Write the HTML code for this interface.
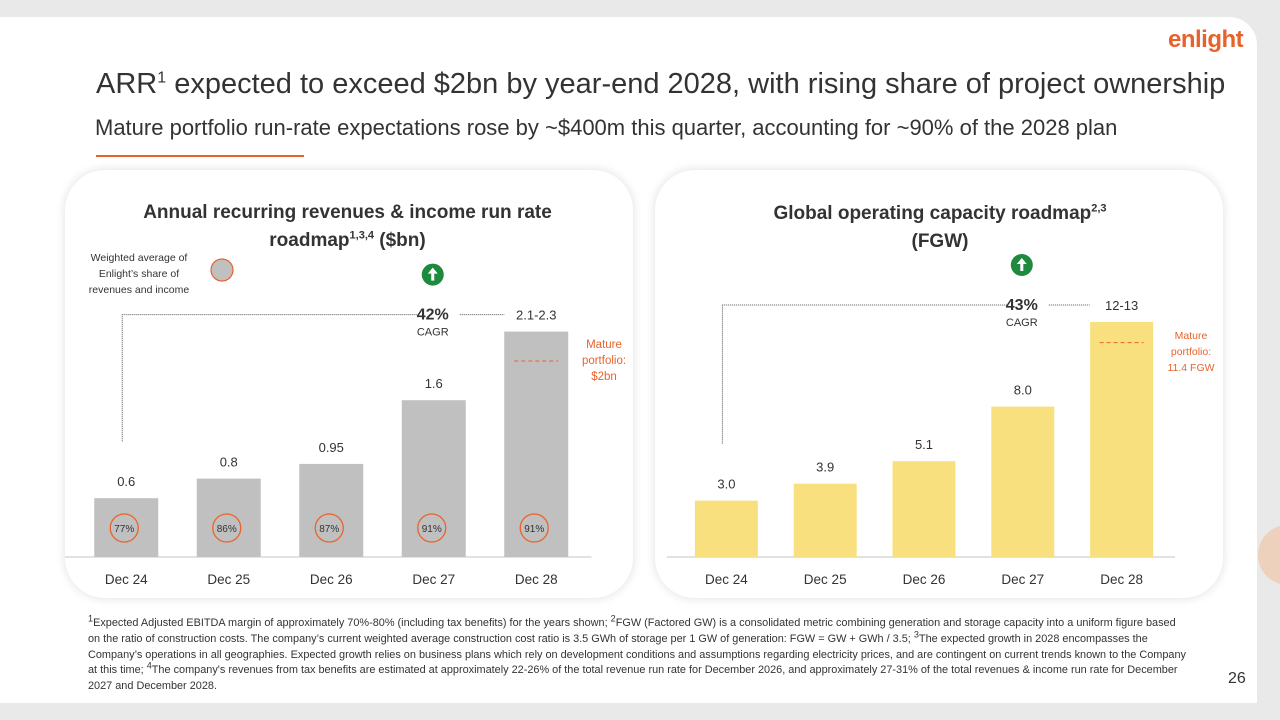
<!DOCTYPE html>
<html><head><meta charset="utf-8">
<style>
*{margin:0;padding:0;box-sizing:border-box}
body{width:1280px;height:720px;background:#e9e9e9;font-family:"Liberation Sans",sans-serif;position:relative;overflow:hidden}
sup{line-height:0;vertical-align:super}
.slide{position:absolute;left:0;top:17px;width:1257px;height:686px;background:#fff;border-top-right-radius:28px}
.abs{position:absolute}
.card{position:absolute;top:170px;width:568px;height:428px;background:#fff;border-radius:40px;box-shadow:0 0 10px rgba(0,0,0,0.13)}
.ctitle{position:absolute;font-weight:bold;font-size:19px;color:#333;text-align:center;line-height:28px}
.fn{position:absolute;left:88px;top:616px;width:1100px;font-size:10.9px;line-height:15.8px;color:#333}
svg text{font-family:"Liberation Sans",sans-serif}
</style></head><body>
<div class="slide"></div>
<div class="abs" style="left:1258px;top:525px;width:40px;height:60px;border-radius:30px 0 0 30px;background:#f6a56a;opacity:.35"></div>
<div class="abs" style="left:1168px;top:26px;font-size:24px;font-weight:bold;color:#e8632b;letter-spacing:-0.5px">enlight</div>
<div class="abs" style="left:96px;top:68px;font-size:29px;color:#333;white-space:nowrap">ARR<sup style="font-size:16px">1</sup> expected to exceed $2bn by year-end 2028, with rising share of project ownership</div>
<div class="abs" style="left:95px;top:115px;font-size:22px;color:#333;white-space:nowrap">Mature portfolio run-rate expectations rose by ~$400m this quarter, accounting for ~90% of the 2028 plan</div>
<div class="abs" style="left:96px;top:155px;width:208px;height:2px;background:#e8632b"></div>

<div class="card" style="left:65px"></div>
<div class="card" style="left:655px"></div>
<div class="ctitle" style="left:90px;top:199px;width:515px">Annual recurring revenues &amp; income run rate<br>roadmap<sup style="font-size:11px">1,3,4</sup> ($bn)</div>
<div class="ctitle" style="left:700px;top:200px;width:480px">Global operating capacity roadmap<sup style="font-size:11px">2,3</sup><br>(FGW)</div>

<svg class="abs" style="left:0;top:0" width="1280" height="720" id="charts"></svg>

<div class="fn"><sup>1</sup>Expected Adjusted EBITDA margin of approximately 70%-80% (including tax benefits) for the years shown; <sup>2</sup>FGW (Factored GW) is a consolidated metric combining generation and storage capacity into a uniform figure based on the ratio of construction costs. The company’s current weighted average construction cost ratio is 3.5 GWh of storage per 1 GW of generation: FGW = GW + GWh / 3.5; <sup>3</sup>The expected growth in 2028 encompasses the Company’s operations in all geographies. Expected growth relies on business plans which rely on development conditions and assumptions regarding electricity prices, and are contingent on current trends known to the Company at this time; <sup>4</sup>The company's revenues from tax benefits are estimated at approximately 22-26% of the total revenue run rate for December 2026, and approximately 27-31% of the total revenues &amp; income run rate for December 2027 and December 2028.</div>
<div class="abs" style="left:1228px;top:670px;font-size:16px;color:#333">26</div>

<script>
const categories=["Dec 24","Dec 25","Dec 26","Dec 27","Dec 28"];
const arrValues=[0.6,0.8,0.95,1.6,2.3];
const arrLabels=["0.6","0.8","0.95","1.6","2.1-2.3"];
const shareLabels=["77%","86%","87%","91%","91%"];
const capValues=[3.0,3.9,5.1,8.0,12.5];
const capLabels=["3.0","3.9","5.1","8.0","12-13"];
const arrMature=[2.0];
const capMature=[11.4];

const NS="http://www.w3.org/2000/svg";
const svg=document.getElementById('charts');
function mk(tag,attrs,parent){const e=document.createElementNS(NS,tag);for(const k in attrs)e.setAttribute(k,attrs[k]);(parent||svg).appendChild(e);return e;}
function txt(x,y,s,attrs){const t=mk('text',Object.assign({x:x,y:y,'text-anchor':'middle','font-size':13,fill:'#333'},attrs||{}));t.textContent=s;return t;}

function drawChart(o){
  const base=557, step=o.step;
  const xC=i=>o.x0+step*i+step/2;
  const yS=v=>base-v*o.scale;
  const ax=mk('line',{x1:o.x0-10,y1:base,x2:o.x0+step*5+4,y2:base,stroke:'#d9d9d9','stroke-width':1.5});
  
  
  categories.forEach((c,i)=>{
    const bw=o.bw, y=yS(o.values[i]);
    const r=mk('rect',{x:xC(i)-bw/2,y:y,width:bw,height:base-y,fill:o.color});
    
    
    const l=txt(xC(i),y-12,o.labels[i],{'font-size':13});
    
    
    const t=txt(xC(i),584,c,{'font-size':13.5});
    
    
    if(o.shares){
      const ci=mk('circle',{cx:xC(i)-2,cy:528,r:14,fill:'none',stroke:'#e8632b','stroke-width':1.3});
      
      
      const st=txt(xC(i)-2,532,o.shares[i],{'font-size':10});
      
      
    }
  });
  const my=yS(o.mature[0]);
  const d=mk('line',{x1:xC(4)-22,y1:my,x2:xC(4)+22,y2:my,stroke:'#e8632b','stroke-dasharray':'4,3','stroke-width':1});
  
  
  const topY=yS(o.values[4])-17;
  const p=mk('path',{d:`M${xC(0)-4} ${yS(o.values[0])-57} V${topY} H${xC(3)-16} M${xC(3)+26} ${topY} H${xC(4)-32}`,fill:'none',stroke:'#555','stroke-dasharray':'1,1','stroke-width':1});
  
  
  const g=txt(xC(3)-1,topY+5,o.cagr,{'font-size':16,'font-weight':'bold'});
  
  
  const gc=txt(xC(3)-1,topY+21,'CAGR',{'font-size':11});
  
  
  const ic=mk('circle',{cx:xC(3)-1,cy:topY-40,r:11,fill:'#1e8a3e'});
  
  
  mk('path',{d:`M${xC(3)-1} ${topY-47} l-5 6 h3.5 v7 h3 v-7 h3.5 z`,fill:'#fff'});
  o.matureText.forEach((s,k)=>{
    const m=txt(o.mx,o.my+k*16,s,{'font-size':o.mfs,fill:'#e8632b'});
    
    
  });
}
drawChart({id:'arr',x0:75,step:102.5,bw:64,scale:98,values:arrValues,labels:arrLabels,shares:shareLabels,color:'#c0c0c0',mature:arrMature,cagr:'42%',matureText:['Mature','portfolio:','$2bn'],mx:604,my:348,mfs:11.5});
drawChart({id:'cap',x0:677,step:98.8,bw:63,scale:18.8,values:capValues,labels:capLabels,shares:null,color:'#f9e07e',mature:capMature,cagr:'43%',matureText:['Mature','portfolio:','11.4 FGW'],mx:1191,my:339,mfs:10.5});
const lc=mk('circle',{cx:222,cy:270,r:11,fill:'#c0c0c0',stroke:'#e8632b','stroke-width':1.2});


['Weighted average of','Enlight’s share of','revenues and income'].forEach((s,k)=>{
  const t=txt(139,261+k*16,s,{'font-size':10.5});
  
  
});
</script>
</body></html>
